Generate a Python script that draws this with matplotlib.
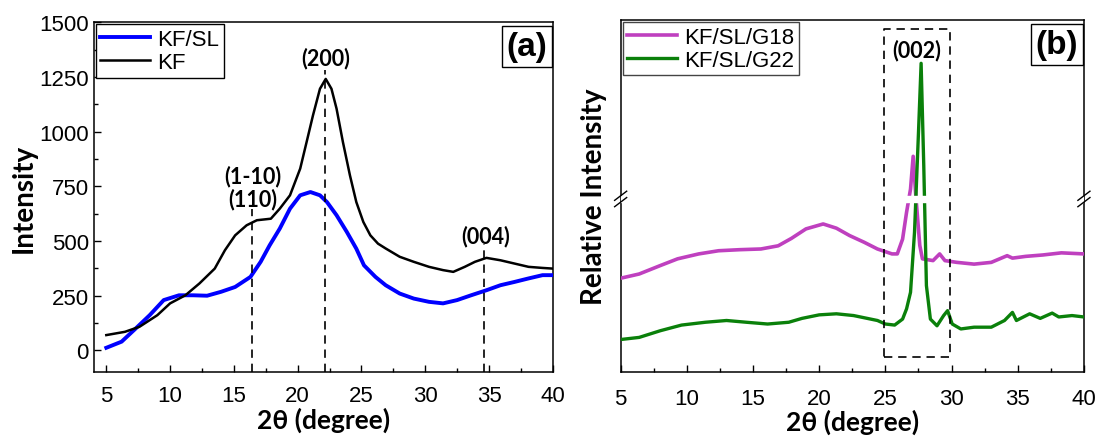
import matplotlib

matplotlib.use("Agg")
import matplotlib.pyplot as plt
from matplotlib.ticker import MultipleLocator, NullLocator

plt.rcParams["font.family"] = ["Liberation Sans", "DejaVu Sans"]

# ---- panel (a): XRD of KF and KF/SL ----
kf_x = [5, 6.46, 7.6, 9, 10, 11.2, 12.3, 13.5, 14.3, 15.1, 16, 16.8, 17.9, 18.6, 19.4,
        20.2, 20.7, 21.2, 21.75, 22.2, 22.65, 23.05, 23.55, 24.1, 24.6, 25.15, 25.7,
        26.3, 26.9, 28, 29.1, 30.3, 31.4, 32.2, 33.1, 33.9, 34.8, 35.9, 37, 38.1, 39.2, 40]
kf_y = [70, 85, 108, 161, 215, 252, 306, 374, 458, 526, 572, 595, 602, 648, 709,
        831, 952, 1074, 1196, 1241, 1196, 1105, 952, 800, 678, 587, 526,
        488, 466, 428, 405, 382, 367, 359, 382, 405, 423, 412, 397, 382, 377, 374]

kfsl_x = [5, 6.2, 7.3, 8.4, 9.5, 10.7, 11.8, 12.9, 14, 15.1, 16.3, 17.1, 17.8, 18.6,
          19.4, 20.2, 21, 21.75, 22.3, 23.05, 23.85, 24.6, 25.2, 26.1, 26.9, 28, 29.1,
          30.3, 31.4, 32.5, 33.6, 34.8, 35.9, 37, 38.1, 39.2, 40]
kfsl_y = [12, 40, 100, 161, 230, 252, 252, 250, 268, 290, 336, 405, 480, 557,
          648, 709, 724, 709, 678, 618, 542, 465, 389, 336, 298, 260, 237,
          222, 215, 230, 252, 275, 298, 313, 329, 344, 344]

# peak markers (position, top of dashed line)
peak_pos = [16.4, 22.15, 34.6]
peak_top = [648, 1280, 488]

# ---- panel (b): relative intensity (arbitrary units) ----
g18_x = [5, 6.4, 8, 9.3, 10.9, 12.4, 14, 15.6, 16.9, 17.9, 19, 20.3, 21.3, 22.3, 23.4,
         24.4, 25.5, 25.9, 26.3, 26.6, 26.9, 27.1, 27.3, 27.6, 27.8, 28.6, 29.1, 29.5,
         30.4, 31.7, 33, 34.2, 34.6, 35.6, 36.9, 38.3, 40]
g18_y = [26.7, 27.9, 30.3, 32.2, 33.6, 34.5, 34.8, 35.0, 35.9, 38.0, 40.7, 42.1, 40.9, 38.8, 36.9,
         35.0, 33.6, 33.6, 37.8, 45.4, 52.0, 61.3, 50.0, 36.0, 32.2, 31.7, 33.6, 31.7,
         31.2, 30.7, 31.2, 33.1, 32.4, 32.9, 33.3, 33.9, 33.6]

g22_x = [5, 6.4, 8, 9.6, 11.4, 13, 14.5, 16.1, 17.7, 18.7, 20, 21.3, 22.6, 24.4, 25,
         25.7, 26.3, 26.6, 26.9, 27.2, 27.5, 27.7, 27.9, 28.1, 28.4, 28.9, 29.4, 29.7,
         30.05, 30.7, 31.7, 33, 34, 34.6, 34.9, 35.9, 36.7, 37.6, 38.1, 39.1, 40]
g22_y = [9.3, 9.9, 11.8, 13.4, 14.2, 14.7, 14.2, 13.7, 14.2, 15.3, 16.3, 16.6, 16.1, 14.7, 13.7,
         13.4, 15.1, 18.0, 22.7, 39.7, 68.0, 87.7, 58.7, 24.6, 15.1, 13.2, 16.1, 17.5,
         13.7, 12.3, 12.8, 12.8, 14.7, 17.0, 14.7, 16.6, 15.3, 16.8, 15.7, 16.1, 15.7]

BREAK_Y = 49.2
BOX_X = (24.9, 29.85)
BOX_Y = (4.3, 97.4)

TICK_FS = 16
LABEL_FONT = ["Lato", "DejaVu Sans"]
PEAK_FS = 15.5


def style_axes(ax, xmin, xpad):
    ax.set_xlim(xmin, 40)
    ax.xaxis.set_major_locator(MultipleLocator(5))
    ax.xaxis.set_minor_locator(MultipleLocator(2.5))
    ax.tick_params(which="both", direction="in", labelsize=TICK_FS)
    ax.tick_params(which="major", length=5, width=1)
    ax.tick_params(which="minor", length=3, width=1)
    ax.tick_params(axis="x", pad=xpad)
    for s in ax.spines.values():
        s.set_linewidth(1.1)
    ax.set_xlabel("2\u03b8 (degree)", fontsize=19, fontweight="bold", family=LABEL_FONT, labelpad=0)


def tag(ax, s):
    ax.text(0.988, 0.975, s, transform=ax.transAxes, ha="right", va="top",
            fontsize=24, fontweight="bold",
            bbox=dict(boxstyle="square,pad=0.15", facecolor="white", edgecolor="black", linewidth=1))


def legend(ax, edge):
    leg = ax.legend(loc="upper left", fontsize=16, frameon=True, fancybox=False, edgecolor=edge,
                    framealpha=1, borderaxespad=0.1, handlelength=2.25, handletextpad=0.32,
                    borderpad=0.2, labelspacing=0.1)
    leg.get_frame().set_linewidth(1)


fig = plt.figure(figsize=(11.02, 4.39), dpi=100)

# ---------- (a) ----------
axa = fig.add_axes([0.0849, 0.1497, 0.4167, 0.7973])
axa.plot(kfsl_x, kfsl_y, color="#0000ff", lw=2.8, label="KF/SL", zorder=3)
axa.plot(kf_x, kf_y, color="black", lw=1.8, label="KF", zorder=4)
for xp, yt in zip(peak_pos, peak_top):
    axa.plot([xp, xp], [-100, yt], color="black", lw=1.2, dashes=(5, 3.5), zorder=5)
axa.set_ylim(-100, 1500)
axa.yaxis.set_major_locator(MultipleLocator(250))
axa.yaxis.set_minor_locator(MultipleLocator(125))
style_axes(axa, 4, 9.5)
axa.set_ylabel("Intensity", fontsize=20, fontweight="bold", family=LABEL_FONT, labelpad=2)
axa.text(16.5, 800, "(1-10)", ha="center", va="center", fontsize=PEAK_FS, fontweight="bold", family=LABEL_FONT)
axa.text(16.5, 694, "(110)", ha="center", va="center", fontsize=PEAK_FS, fontweight="bold", family=LABEL_FONT)
axa.text(22.2, 1340, "(200)", ha="center", va="center", fontsize=PEAK_FS, fontweight="bold", family=LABEL_FONT)
axa.text(34.7, 523, "(004)", ha="center", va="center", fontsize=PEAK_FS, fontweight="bold", family=LABEL_FONT)
legend(axa, "black")
tag(axa, "(a)")

# ---------- (b) ----------
axb = fig.add_axes([0.5632, 0.1497, 0.4204, 0.8025])
axb.plot(g18_x, g18_y, color="#bf40bf", lw=2.6, label="KF/SL/G18", zorder=3)
axb.plot(g22_x, g22_y, color="#0a800a", lw=2.4, label="KF/SL/G22", zorder=3)
axb.set_ylim(0, 100)
axb.yaxis.set_major_locator(NullLocator())
style_axes(axb, 5, 11)
axb.set_ylabel("Relative Intensity", fontsize=20, fontweight="bold", family=LABEL_FONT, labelpad=10)
# axis break: white gap through curves and slashes on the spines
axb.axhspan(BREAK_Y - 0.9, BREAK_Y + 0.9, color="white", zorder=3.5)
for xa in (0, 1):
    for dy in (-0.9, 0.9):
        y0 = (BREAK_Y + dy) / 100
        axb.plot([xa - 0.013, xa + 0.013], [y0 - 0.013, y0 + 0.013],
                 transform=axb.transAxes, color="black", lw=1, clip_on=False, zorder=6)
axb.plot([BOX_X[0], BOX_X[1], BOX_X[1], BOX_X[0], BOX_X[0]],
         [BOX_Y[0], BOX_Y[0], BOX_Y[1], BOX_Y[1], BOX_Y[0]],
         color="black", lw=1.2, dashes=(5, 3.5), zorder=5)
axb.text(27.4, 91.5, "(002)", ha="center", va="center", fontsize=PEAK_FS, fontweight="bold", family=LABEL_FONT)
legend(axb, "#444444")
tag(axb, "(b)")

fig.savefig("out.png", dpi=100, facecolor="white")
